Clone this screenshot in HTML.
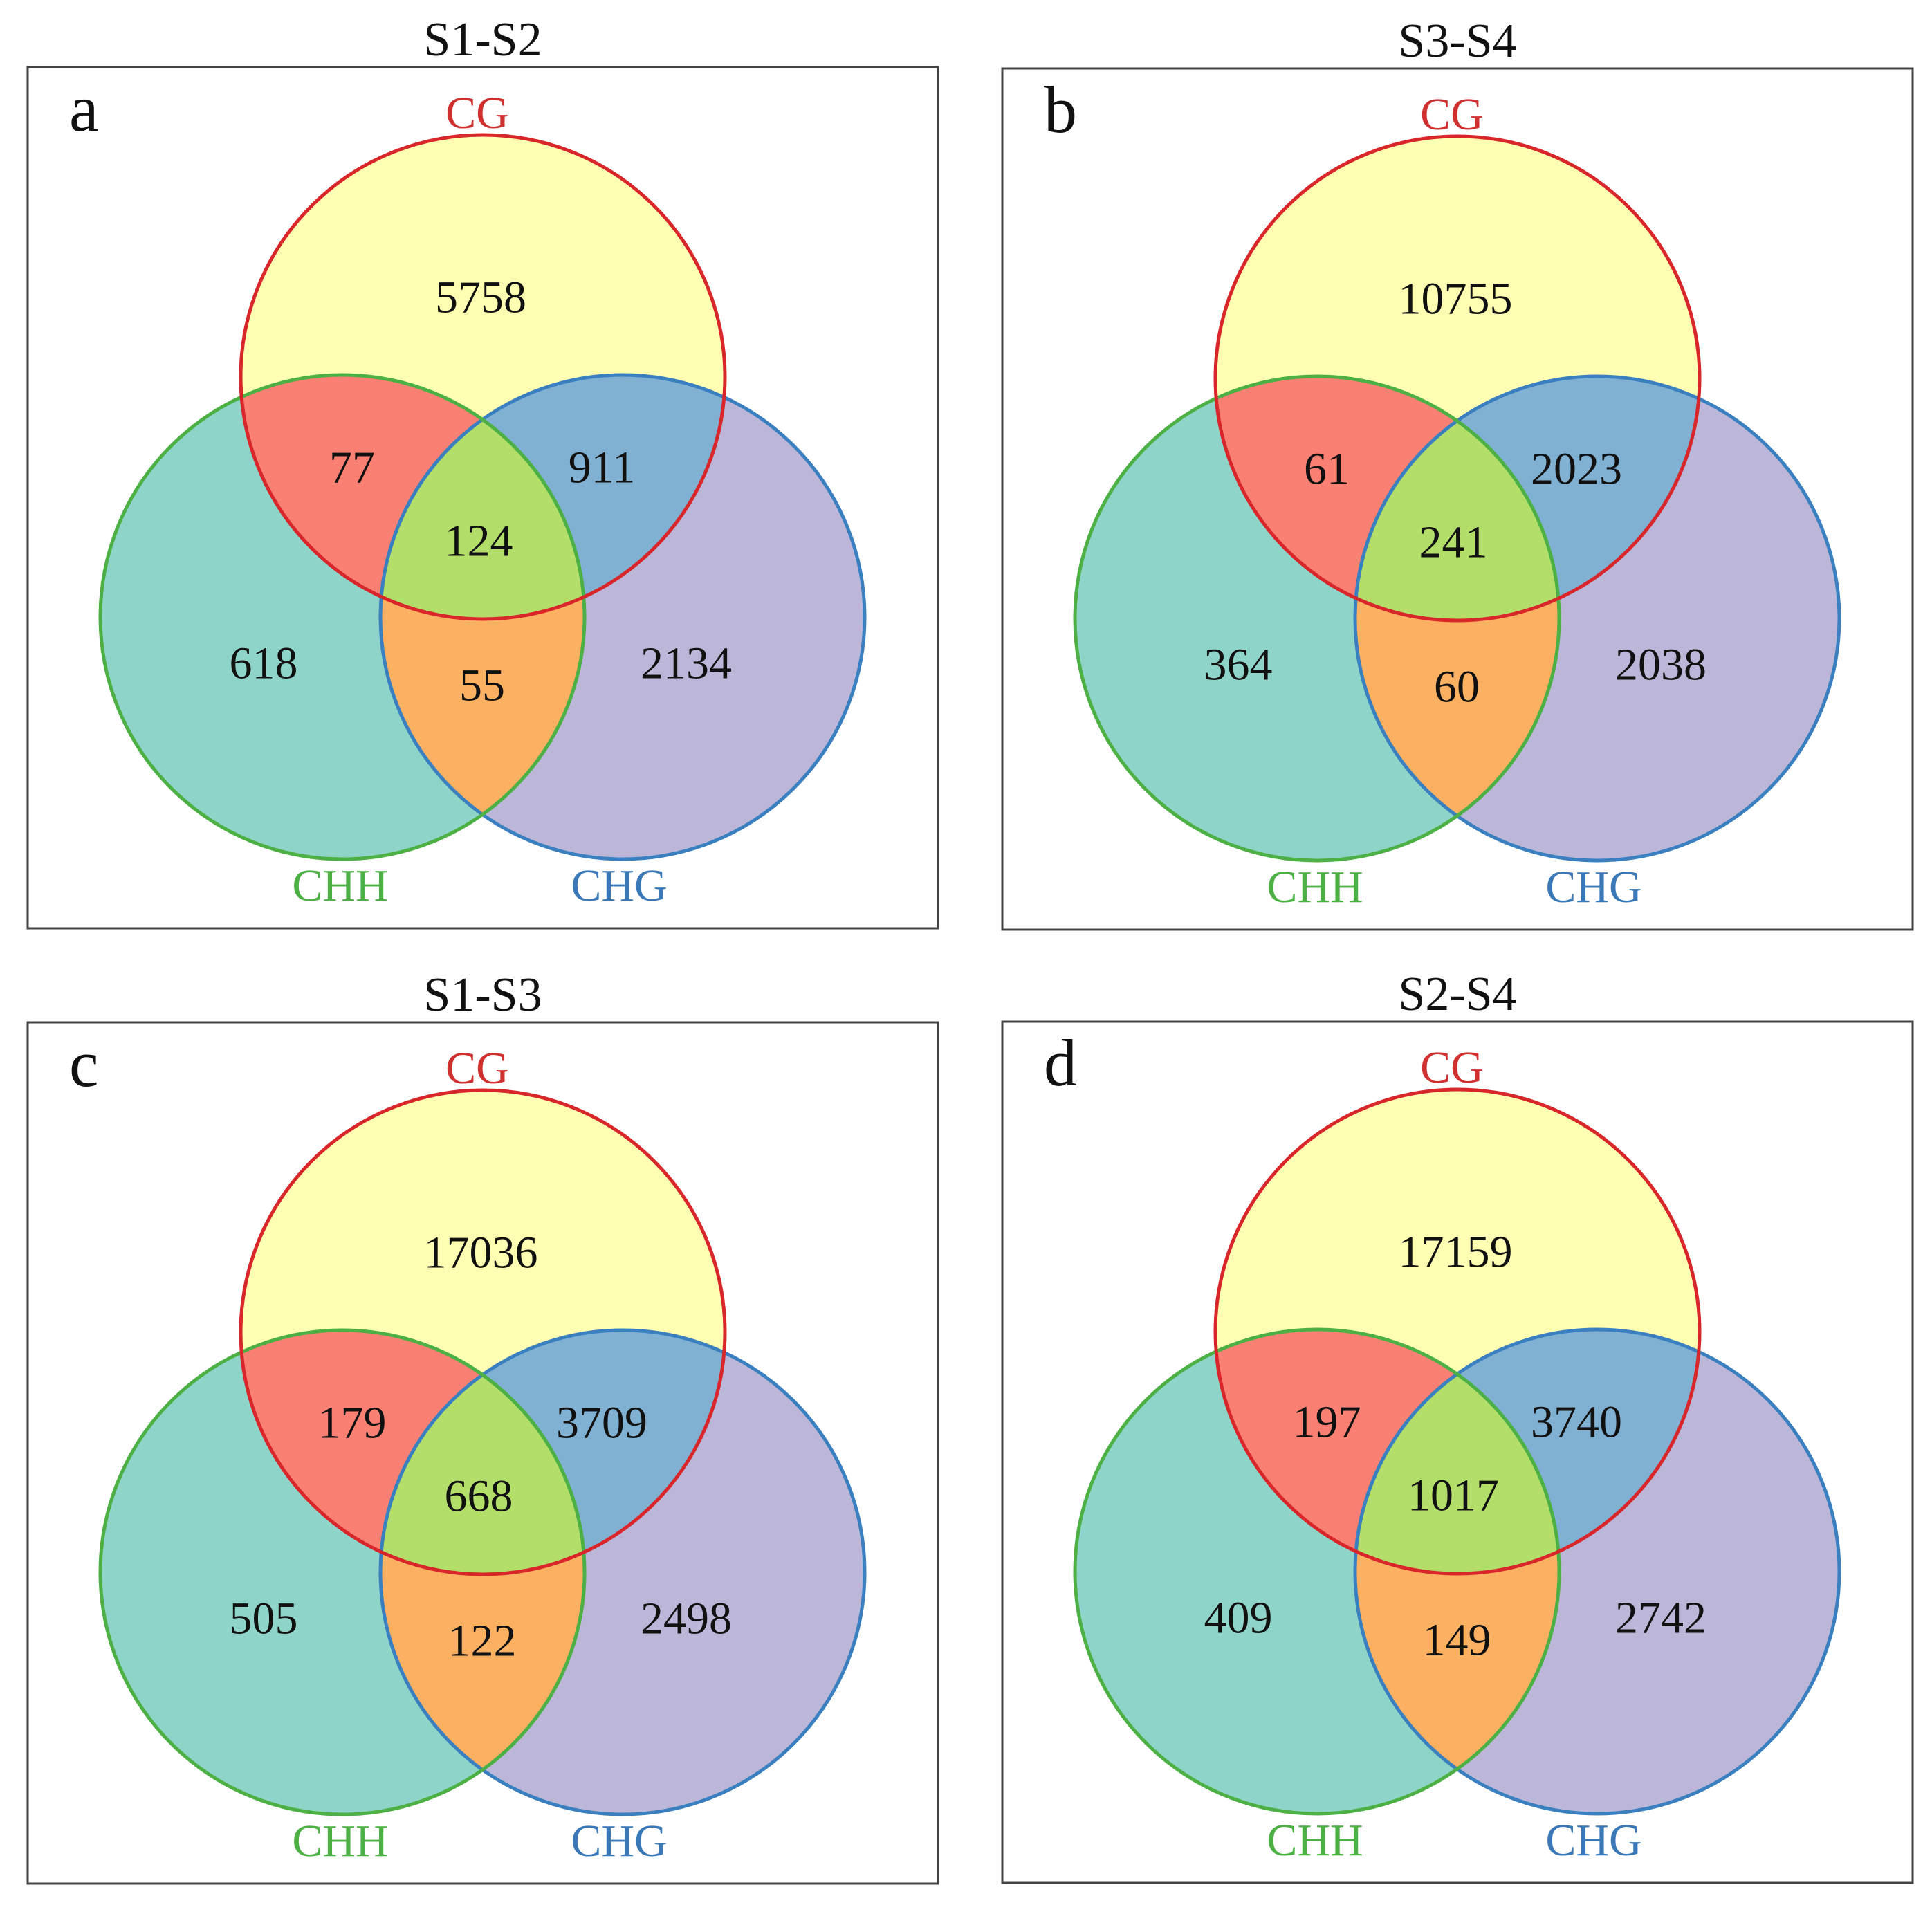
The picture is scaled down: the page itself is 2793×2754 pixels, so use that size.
<!DOCTYPE html>
<html><head><meta charset="utf-8"><style>
html,body{margin:0;padding:0;background:#fff;}
svg{display:block;font-family:"Liberation Serif",serif;}
</style></head><body>
<svg id="fig" width="2793" height="2754" viewBox="0 0 2793 2754">
<defs>
<clipPath id="clipCG"><circle cx="658" cy="448" r="350"/></clipPath>
<clipPath id="clipCHH"><circle cx="455" cy="795" r="350"/></clipPath>
<clipPath id="clipCHG"><circle cx="860" cy="795" r="350"/></clipPath>
</defs>
</svg>
<script>
const titles = ["S1-S2","S3-S4","S1-S3","S2-S4"];
const letters = ["a","b","c","d"];
// region order: CG only, CG∩CHH, CG∩CHG, all three, CHH only, CHH∩CHG, CHG only
const cgOnly = [5758,10755,17036,17159];
const cgChh = [77,61,179,197];
const cgChg = [911,2023,3709,3740];
const allThree = [124,241,668,1017];
const chhOnly = [618,364,505,409];
const chhChg = [55,60,122,149];
const chgOnly = [2134,2038,2498,2742];
const setNames = ["CG","CHH","CHG"];

const NS = "http://www.w3.org/2000/svg";
const svg = document.getElementById('fig');
const origins = [[40,97],[1449,99],[40,1478],[1449,1477]];
const BW = 1316, BH = 1245;
const C = {CG:[658,448], CHH:[455,795], CHG:[860,795]}, R = 350;

function mk(tag, attrs, parent){
  const e = document.createElementNS(NS, tag);
  for (const k in attrs) e.setAttribute(k, attrs[k]);
  parent.appendChild(e); return e;
}
function circ(key, fill, parent, clip){
  const a = {cx:C[key][0], cy:C[key][1], r:R, fill:fill};
  if (clip) a['clip-path'] = 'url(#clip'+clip+')';
  return mk('circle', a, parent);
}

titles.forEach((t, i) => {
  const [ox, oy] = origins[i];
  const g = mk('g', {transform:`translate(${ox},${oy})`}, svg);
  
  

  const title = mk('text', {x:BW/2, y:-17, 'text-anchor':'middle', 'font-size':70, fill:'#111'}, g);
  title.textContent = t;
  
  

  const box = mk('rect', {x:0, y:0, width:BW, height:BH, fill:'#fff', stroke:'#444', 'stroke-width':3}, g);
  
  

  const lt = mk('text', {x:60, y:92, 'font-size':96, fill:'#111'}, g);
  lt.textContent = letters[i];
  
  

  const f1 = circ('CHH', '#8fd4c8', g);
  
  
  const f2 = circ('CHG', '#bcb7d9', g);
  
  
  const f3 = circ('CHG', '#fbb062', g, 'CHH');
  
  
  const f4 = circ('CG', '#ffffb3', g);
  
  
  const f5 = circ('CHH', '#f98072', g, 'CG');
  
  
  const f6 = circ('CHG', '#80b1d3', g, 'CG');
  
  
  const gc = mk('g', {'clip-path':'url(#clipCG)'}, g);
  const f7 = circ('CHG', '#b3de69', gc, 'CHH');
  
  

  const s1 = mk('circle', {cx:C.CHG[0], cy:C.CHG[1], r:R, fill:'none', stroke:'#3a80c0', 'stroke-width':5}, g);
  
  
  const s2 = mk('circle', {cx:C.CHH[0], cy:C.CHH[1], r:R, fill:'none', stroke:'#4cb044', 'stroke-width':5}, g);
  
  
  const s3 = mk('circle', {cx:C.CG[0], cy:C.CG[1], r:R, fill:'none', stroke:'#d8262a', 'stroke-width':5}, g);
  
  

  const labs = [[setNames[0], 650, 88, '#d03030'], [setNames[1], 452, 1205, '#4cb044'], [setNames[2], 855, 1205, '#3a78b8']];
  labs.forEach(l => {
    const e = mk('text', {x:l[1], y:l[2], 'text-anchor':'middle', 'font-size':66, fill:l[3]}, g);
    e.textContent = l[0];
    
    
  });

  const vals = [
    [cgOnly[i], 655, 333, 'count-cg-only'],
    [cgChh[i], 469, 579, 'count-cg-chh'],
    [cgChg[i], 830, 579, 'count-cg-chg'],
    [allThree[i], 652, 685, 'count-all-three'],
    [chhOnly[i], 341, 862, 'count-chh-only'],
    [chhChg[i], 657, 894, 'count-chh-chg'],
    [chgOnly[i], 952, 862, 'count-chg-only']
  ];
  vals.forEach(v => {
    const e = mk('text', {x:v[1], y:v[2], 'text-anchor':'middle', 'dominant-baseline':'central', 'font-size':66, fill:'#111'}, g);
    e.textContent = v[0];
    
    
  });
});
</script>
</body></html>
